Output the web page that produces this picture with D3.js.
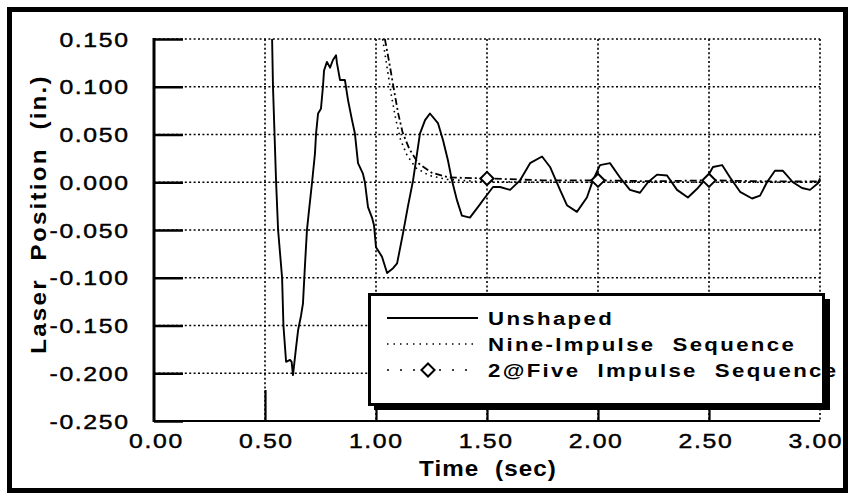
<!DOCTYPE html>
<html>
<head>
<meta charset="utf-8">
<script src="https://cdn.jsdelivr.net/npm/d3@7"></script>
<style>
  html, body { margin: 0; padding: 0; background: #fff; }
  svg { display: block; }
  svg text { white-space: pre; }
</style>
</head>
<body>
<svg id="chart" width="849" height="493"></svg>
<script>
// ---------- data ----------
const xTicks = [0, 0.5, 1.0, 1.5, 2.0, 2.5, 3.0];
const xTickLabels = ["0.00", "0.50", "1.00", "1.50", "2.00", "2.50", "3.00"];
const yTicks = [0.15, 0.10, 0.05, 0.0, -0.05, -0.10, -0.15, -0.20, -0.25];
const yTickLabels = ["0.150", "0.100", "0.050", "0.000", "-0.050", "-0.100", "-0.150", "-0.200", "-0.250"];

const unshapedTime = [0.532, 0.536, 0.543, 0.550, 0.559, 0.577, 0.583, 0.595, 0.613, 0.620, 0.626, 0.640, 0.649, 0.662, 0.671, 0.680, 0.689, 0.698, 0.712, 0.725, 0.730, 0.739, 0.752, 0.761, 0.766, 0.779, 0.793, 0.806, 0.820, 0.824, 0.838, 0.860, 0.874, 0.892, 0.905, 0.919, 0.941, 0.950, 0.964, 0.982, 0.991, 1.000, 1.027, 1.050, 1.077, 1.095, 1.122, 1.144, 1.167, 1.198, 1.221, 1.243, 1.279, 1.302, 1.324, 1.342, 1.365, 1.387, 1.423, 1.459, 1.491, 1.527, 1.559, 1.604, 1.649, 1.694, 1.748, 1.784, 1.829, 1.860, 1.905, 1.950, 1.977, 2.009, 2.054, 2.099, 2.144, 2.189, 2.225, 2.266, 2.311, 2.356, 2.405, 2.450, 2.491, 2.518, 2.559, 2.595, 2.640, 2.694, 2.730, 2.761, 2.797, 2.833, 2.878, 2.919, 2.955, 2.991, 3.000];
const unshapedValue = [0.150, 0.100, 0.050, 0.000, -0.050, -0.100, -0.150, -0.188, -0.186, -0.188, -0.202, -0.173, -0.155, -0.140, -0.127, -0.087, -0.050, -0.030, 0.000, 0.030, 0.051, 0.072, 0.077, 0.100, 0.117, 0.126, 0.120, 0.128, 0.133, 0.125, 0.107, 0.107, 0.086, 0.065, 0.051, 0.020, 0.009, 0.000, -0.026, -0.037, -0.045, -0.068, -0.078, -0.095, -0.090, -0.085, -0.053, -0.025, 0.002, 0.051, 0.065, 0.072, 0.062, 0.044, 0.023, 0.002, -0.019, -0.035, -0.037, -0.026, -0.016, -0.005, -0.005, -0.008, 0.002, 0.020, 0.027, 0.016, -0.008, -0.024, -0.031, -0.016, 0.002, 0.018, 0.020, 0.005, -0.008, -0.011, 0.000, 0.008, 0.007, -0.008, -0.016, -0.006, 0.005, 0.016, 0.018, 0.005, -0.010, -0.017, -0.014, 0.000, 0.012, 0.012, 0.000, -0.006, -0.008, -0.001, 0.004];

const nineTime = [1.03, 1.05, 1.07, 1.09, 1.11, 1.14, 1.18, 1.24, 1.32, 1.45, 1.70, 2.20, 2.70, 3.00];
const nineValue = [0.150, 0.120, 0.090, 0.065, 0.045, 0.028, 0.015, 0.007, 0.003, 0.001, 0.000, 0.000, 0.000, 0.000];

const fiveTime = [1.04, 1.06, 1.08, 1.10, 1.12, 1.15, 1.19, 1.25, 1.33, 1.50, 1.75, 2.00, 2.25, 2.50, 2.75, 3.00];
const fiveValue = [0.150, 0.125, 0.098, 0.072, 0.052, 0.035, 0.020, 0.010, 0.005, 0.004, 0.002, 0.002, 0.001, 0.002, 0.001, 0.001];
const fiveMarkerTime = [1.5, 2.0, 2.5];
const fiveMarkerValue = [0.004, 0.002, 0.002];

const legendLabels = ["Unshaped", "Nine-Impulse  Sequence", "2@Five  Impulse  Sequence"];

// ---------- layout ----------
const svg = d3.select("#chart");
const x = d3.scaleLinear().domain([0, 3]).range([154, 820]);
const y = d3.scaleLinear().domain([-0.25, 0.15]).range([421, 39]);
const FONT = "'Liberation Sans', Arial, Helvetica, sans-serif";

// outer frame
svg.append("rect").attr("x", 9.5).attr("y", 9.5).attr("width", 836).attr("height", 481)
  .attr("fill", "#fff").attr("stroke", "#000").attr("stroke-width", 5);

// grid
const grid = svg.append("g").attr("stroke", "#000").attr("stroke-width", 1.6)
  .attr("stroke-dasharray", "2,2.4").attr("fill", "none");
xTicks.filter(d => d > 0).forEach(d => {
  grid.append("line").attr("x1", x(d)).attr("x2", x(d)).attr("y1", y(0.15)).attr("y2", y(-0.25));
});
yTicks.filter(d => d > -0.25).forEach(d => {
  grid.append("line").attr("x1", x(0)).attr("x2", x(3)).attr("y1", y(d)).attr("y2", y(d));
});

// axes (library axes, inner ticks)
const yAxis = d3.axisLeft(y).tickValues(yTicks).tickSize(-29).tickFormat("");
const gy = svg.append("g").attr("transform", `translate(${x(0)},0)`).call(yAxis);
gy.select(".domain").remove();
gy.selectAll(".tick line").attr("stroke", "#000").attr("stroke-width", 2.5);
svg.append("line").attr("x1", x(0)).attr("x2", x(0)).attr("y1", y(0.15) - 1).attr("y2", y(-0.25) + 1)
  .attr("stroke", "#000").attr("stroke-width", 3);

const xAxis = d3.axisBottom(x).tickValues(xTicks.filter(d => d > 0 && d < 3)).tickSize(-31).tickFormat("");
const gx = svg.append("g").attr("transform", `translate(0,${y(-0.25)})`).call(xAxis);
gx.select(".domain").remove();
gx.selectAll(".tick line").attr("stroke", "#000").attr("stroke-width", 2.2);
svg.append("line").attr("x1", x(0)).attr("x2", x(3)).attr("y1", y(-0.25)).attr("y2", y(-0.25))
  .attr("stroke", "#000").attr("stroke-width", 2.2);

// tick labels (horizontally stretched Helvetica-like face)
const SX = 1.18, LS = 1.4;
svg.append("g").selectAll("text").data(yTicks).join("text")
  .attr("transform", d => `translate(${128 + LS * SX},${y(d) + 7.5}) scale(${SX},1)`)
  .attr("text-anchor", "end").attr("font-family", FONT).attr("font-size", 21)
  .attr("stroke", "#000").attr("stroke-width", 0.45)
  .attr("letter-spacing", LS).text((d, i) => yTickLabels[i]);
svg.append("g").selectAll("text").data(xTicks).join("text")
  .attr("transform", d => `translate(${x(d) + 2.5 - 2.2 * d},448) scale(${SX},1)`)
  .attr("text-anchor", "middle").attr("font-family", FONT).attr("font-size", 21)
  .attr("stroke", "#000").attr("stroke-width", 0.45)
  .attr("letter-spacing", LS).text((d, i) => xTickLabels[i]);

// axis titles
svg.append("text").attr("transform", "translate(488,476) scale(1.1,1)").attr("text-anchor", "middle")
  .attr("font-family", FONT).attr("font-weight", "bold").attr("font-size", 22)
  .attr("letter-spacing", 1).text("Time  (sec)");
svg.append("text").attr("transform", "translate(46,214) rotate(-90) scale(1.1,1)").attr("text-anchor", "middle")
  .attr("font-family", FONT).attr("font-weight", "bold").attr("font-size", 22)
  .attr("letter-spacing", 2).text("Laser  Position  (in.)");

// series
const line = d3.line().x(d => x(d[0])).y(d => y(d[1]));
svg.append("clipPath").attr("id", "plotclip").append("rect")
  .attr("x", x(0)).attr("y", y(0.15) - 2).attr("width", x(3) - x(0) + 2).attr("height", y(-0.25) - y(0.15) + 2);
const plot = svg.append("g").attr("clip-path", "url(#plotclip)");

plot.append("path").datum(d3.zip(nineTime, nineValue)).attr("d", line)
  .attr("fill", "none").attr("stroke", "#000").attr("stroke-width", 1.6).attr("stroke-dasharray", "1.6,4");
plot.append("path").datum(d3.zip(fiveTime, fiveValue)).attr("d", line)
  .attr("fill", "none").attr("stroke", "#000").attr("stroke-width", 1.8).attr("stroke-dasharray", "7,3,2,3");
plot.append("path").datum(d3.zip(unshapedTime, unshapedValue)).attr("d", line)
  .attr("fill", "none").attr("stroke", "#000").attr("stroke-width", 1.9).attr("stroke-linejoin", "round");

const diamond = d3.symbol().type(d3.symbolDiamond2).size(110);
svg.append("g").selectAll("path").data(d3.zip(fiveMarkerTime, fiveMarkerValue)).join("path")
  .attr("transform", d => `translate(${x(d[0])},${y(d[1])})`)
  .attr("d", diamond).attr("fill", "#fff").attr("stroke", "#000").attr("stroke-width", 2);

// legend
const lg = svg.append("g");
lg.append("rect").attr("x", 374).attr("y", 299).attr("width", 456).attr("height", 111).attr("fill", "#000");
lg.append("rect").attr("x", 369.5).attr("y", 294.5).attr("width", 454).attr("height", 110)
  .attr("fill", "#fff").attr("stroke", "#000").attr("stroke-width", 3);
const rowsY = [318, 344, 370];
lg.append("line").attr("x1", 387).attr("x2", 478).attr("y1", rowsY[0]).attr("y2", rowsY[0])
  .attr("stroke", "#000").attr("stroke-width", 1.8);
lg.append("line").attr("x1", 387).attr("x2", 478).attr("y1", rowsY[1]).attr("y2", rowsY[1])
  .attr("stroke", "#000").attr("stroke-width", 1.4).attr("stroke-dasharray", "1.5,5");
lg.append("line").attr("x1", 387).attr("x2", 478).attr("y1", rowsY[2]).attr("y2", rowsY[2])
  .attr("stroke", "#000").attr("stroke-width", 1.6).attr("stroke-dasharray", "2,11");
lg.append("path").attr("transform", `translate(428,${rowsY[2]})`).attr("d", diamond)
  .attr("fill", "#fff").attr("stroke", "#000").attr("stroke-width", 2);
lg.selectAll("text.lab").data(legendLabels).join("text").attr("class", "lab")
  .attr("transform", (d, i) => `translate(488,${rowsY[i] + 7}) scale(1.17,1)`)
  .attr("font-family", FONT).attr("font-weight", "bold").attr("font-size", 19)
  .attr("letter-spacing", 2).text(d => d);
</script>
</body>
</html>
